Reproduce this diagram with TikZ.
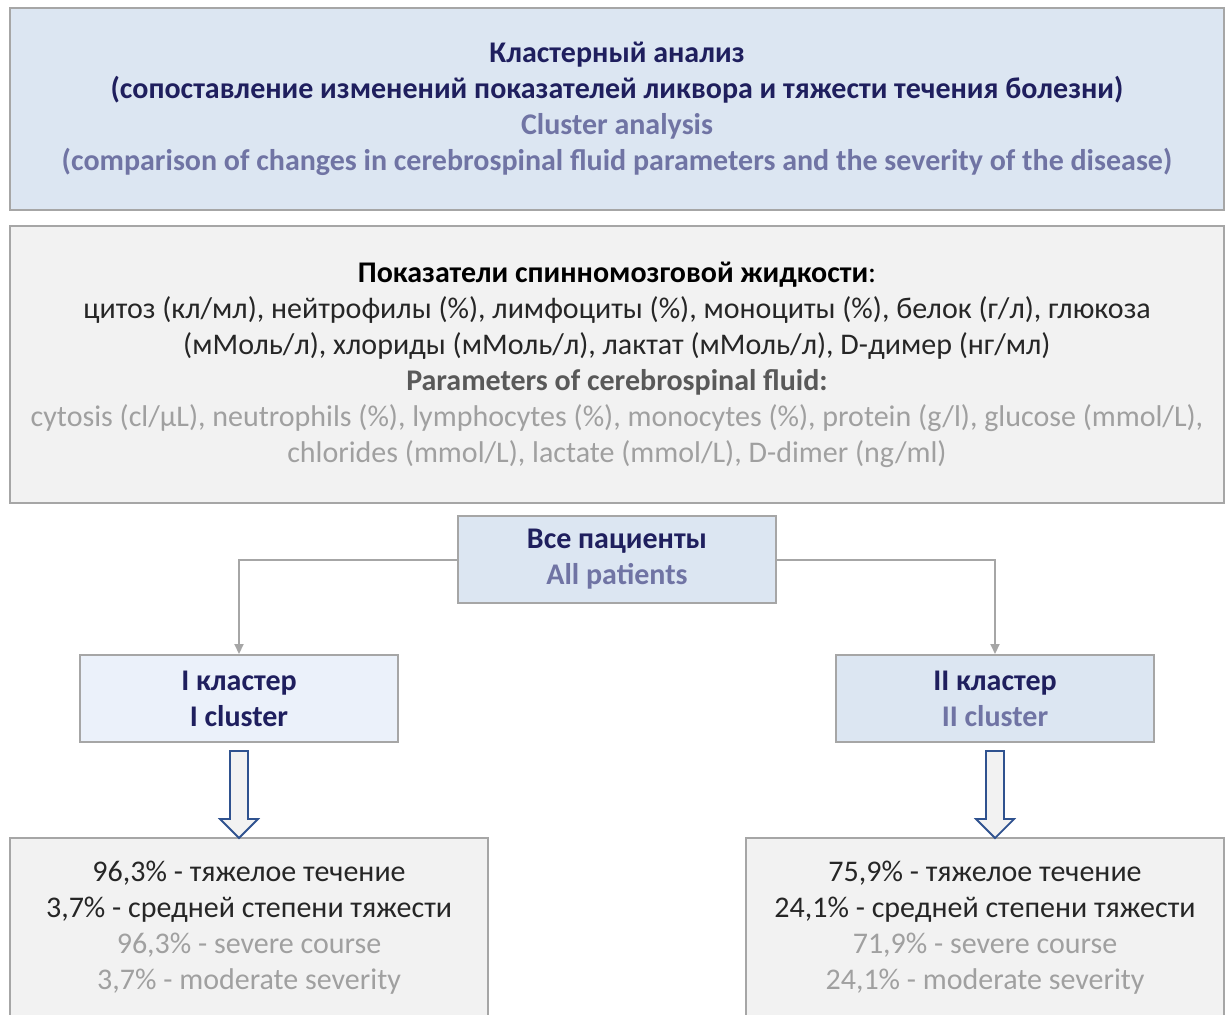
\documentclass[tikz,border=0pt]{standalone}
\usepackage{fontspec}
\setmainfont{Carlito}
\usetikzlibrary{arrows.meta,calc}

\definecolor{navy}{HTML}{1F1F5E}
\definecolor{slate}{HTML}{7074A4}
\definecolor{boxline}{HTML}{A6A6A6}
\definecolor{bluefill}{HTML}{DCE6F2}
\definecolor{palefill}{HTML}{EBF1FA}
\definecolor{grayfill}{HTML}{F2F2F2}
\definecolor{darktext}{HTML}{262626}
\definecolor{midtext}{HTML}{595959}
\definecolor{lighttext}{HTML}{A0A0A0}
\definecolor{arrowline}{HTML}{2F528F}

\tikzset{
  box/.style={draw=boxline,line width=1pt,inner sep=0pt,align=center},
  link/.style={draw=boxline,line width=1pt,-{Triangle[length=5pt,width=4.5pt]}},
  fatarrow/.style={draw=arrowline,fill=grayfill,line width=0.9pt,line join=miter}
}

\begin{document}
\begin{tikzpicture}[x=0.5pt,y=-0.5pt,every node/.style={font=\fontsize{15}{18}\selectfont}]
\useasboundingbox (0,0) rectangle (1226,1014);
\clip (0,0) rectangle (1226,1014);

% header
\node[box,fill=bluefill,minimum width=607pt,minimum height=101pt] (title) at (617,109)
  {\bfseries\textcolor{navy}{Кластерный анализ}\\
   \bfseries\textcolor{navy}{(сопоставление изменений показателей ликвора и тяжести течения болезни)}\\
   \bfseries\textcolor{slate}{Cluster analysis}\\
   \bfseries\textcolor{slate}{(comparison of changes in cerebrospinal fluid parameters and the severity of the disease)}};

% parameters
\node[box,fill=grayfill,minimum width=607pt,minimum height=138.5pt] (params) at (617,364.5)
  {\textcolor{black}{\bfseries Показатели спинномозговой жидкости}:\\
   \textcolor{darktext}{цитоз (кл/мл), нейтрофилы (\%), лимфоциты (\%), моноциты (\%), белок (г/л), глюкоза}\\
   \textcolor{darktext}{(мМоль/л), хлориды (мМоль/л), лактат (мМоль/л), D-димер (нг/мл)}\\
   \bfseries\textcolor{midtext}{Parameters of cerebrospinal fluid:}\\
   \textcolor{lighttext}{cytosis (cl/µL), neutrophils (\%), lymphocytes (\%), monocytes (\%), protein (g/l), glucose (mmol/L),}\\
   \textcolor{lighttext}{chlorides (mmol/L), lactate (mmol/L), D-dimer (ng/ml)}};

% clusters
\node[box,fill=bluefill,minimum width=159pt,minimum height=43.5pt] (all) at (617,559.5)
  {\bfseries\textcolor{navy}{Все пациенты}\\ \bfseries\textcolor{slate}{All patients}};
\node[box,fill=palefill,minimum width=159pt,minimum height=43.5pt] (c1) at (239,698.5)
  {\bfseries\textcolor{navy}{I кластер}\\ \bfseries\textcolor{navy}{I cluster}};
\node[box,fill=bluefill,minimum width=159pt,minimum height=43.5pt] (c2) at (995,698.5)
  {\bfseries\textcolor{navy}{II кластер}\\ \bfseries\textcolor{slate}{II cluster}};

\draw[link] (all.west) -| (c1.north);
\draw[link] (all.east) -| (c2.north);

% results
\node[box,fill=grayfill,minimum width=239pt,minimum height=89.5pt] (res1) at (249,927.5)
  {\textcolor{darktext}{96,3\% - тяжелое течение}\\
   \textcolor{darktext}{3,7\% - средней степени тяжести}\\
   \textcolor{lighttext}{96,3\% - severe course}\\
   \textcolor{lighttext}{3,7\% - moderate severity}};
\node[box,fill=grayfill,minimum width=239pt,minimum height=89.5pt] (res2) at (985,927.5)
  {\textcolor{darktext}{75,9\% - тяжелое течение}\\
   \textcolor{darktext}{24,1\% - средней степени тяжести}\\
   \textcolor{lighttext}{71,9\% - severe course}\\
   \textcolor{lighttext}{24,1\% - moderate severity}};

\draw[fatarrow] ($(c1.south)+(-9,8)$) -- ($(c1.south)+(9,8)$) -- ($(c1.south)+(9,76)$)
  -- ($(c1.south)+(19,76)$) -- ($(c1.south)+(0,95)$) -- ($(c1.south)+(-19,76)$)
  -- ($(c1.south)+(-9,76)$) -- cycle;
\draw[fatarrow] ($(c2.south)+(-9,8)$) -- ($(c2.south)+(9,8)$) -- ($(c2.south)+(9,76)$)
  -- ($(c2.south)+(19,76)$) -- ($(c2.south)+(0,95)$) -- ($(c2.south)+(-19,76)$)
  -- ($(c2.south)+(-9,76)$) -- cycle;
\end{tikzpicture}
\end{document}
